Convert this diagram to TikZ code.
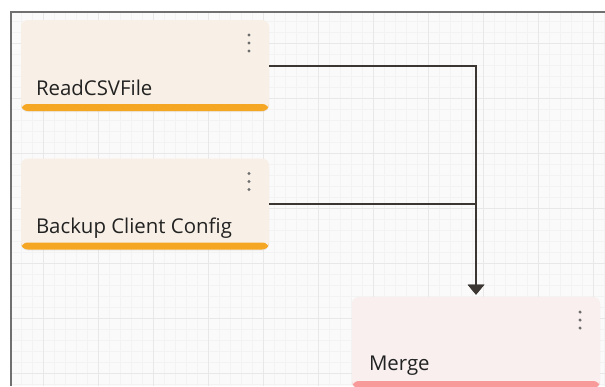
\documentclass[tikz,border=0pt]{standalone}
\usepackage{fontspec}
\setmainfont{Open Sans}
\usetikzlibrary{positioning, arrows.meta, shadows}

\definecolor{canvasbg}{HTML}{FAFAFA}
\definecolor{gridminor}{HTML}{F3F3F3}
\definecolor{gridmajor}{HTML}{E8E8E8}
\definecolor{framegray}{HTML}{707070}
\definecolor{cardfill}{HTML}{F8F0E6}
\definecolor{mergefill}{HTML}{F8EFEE}
\definecolor{barorange}{HTML}{F5A623}
\definecolor{barred}{HTML}{F99A9A}
\definecolor{wirecol}{HTML}{3B3632}
\definecolor{dotcol}{HTML}{6E6E6E}
\definecolor{textcol}{HTML}{222222}

\tikzset{
  card/.style={draw=none, fill=cardfill, rounded corners=5pt,
    minimum width=186pt, minimum height=68.25pt, inner sep=0pt,
    drop shadow={opacity=0.12, shadow xshift=0pt, shadow yshift=-0.8pt},
    path picture={
      \fill[#1] (path picture bounding box.south west) rectangle
        ([yshift=5.25pt]path picture bounding box.south east);
      \foreach \dy in {15,23,31}
        \fill[dotcol] ([xshift=-15pt]path picture bounding box.north east) ++(0,\dy) circle (1.3pt);
    }},
  card/.default=barorange,
  cardtext/.style={font=\fontsize{15.3pt}{18pt}\selectfont, text=textcol, inner sep=0pt},
  wire/.style={draw=wirecol, line width=1.5pt, -{Triangle[width=12pt, length=7.5pt]}}
}

\begin{document}
\begin{tikzpicture}[x=0.75pt, y=-0.75pt]
  \useasboundingbox (0,0) rectangle (605,386);
  \fill[white] (0,0) rectangle (605,386);
  \fill[canvasbg] (11,12) rectangle (605,386);
  % grid
  \foreach \k in {0,...,53}
    \draw[gridminor, line width=0.6pt] ({21+11*\k},12) -- ({21+11*\k},386);
  \foreach \k in {0,...,33}
    \draw[gridminor, line width=0.6pt] (11,{21+11*\k}) -- (605,{21+11*\k});
  \foreach \k in {0,...,10}
    \draw[gridmajor, line width=0.75pt] ({43+55*\k},12) -- ({43+55*\k},386);
  \foreach \k in {0,...,6}
    \draw[gridmajor, line width=0.75pt] (11,{43+55*\k}) -- (605,{43+55*\k});
  \draw[framegray, line width=1.1pt] (11,386) -- (11,12) -- (605,12);

  % cards
  \node[card] (read) at (145,65.5) {};
  \node[card] (backup) at (145,204) {};
  \node[card=barred, fill=mergefill] (merge) at (476,342.5) {};

  \node[cardtext, above right=12pt and 11.25pt of read.south west, anchor=base west] (readtxt) {ReadCSVFile};
  \node[cardtext, above right=12pt and 11.25pt of backup.south west, anchor=base west] (backuptxt) {Backup Client Config};
  \node[cardtext, above right=13.5pt and 12.75pt of merge.south west, anchor=base west] (mergetxt) {Merge};

  % connectors
  \draw[wire] (read.east) -| ([yshift=1.5pt]merge.north);
  \draw[wire] (backup.east) -| ([yshift=1.5pt]merge.north);
\end{tikzpicture}
\end{document}
